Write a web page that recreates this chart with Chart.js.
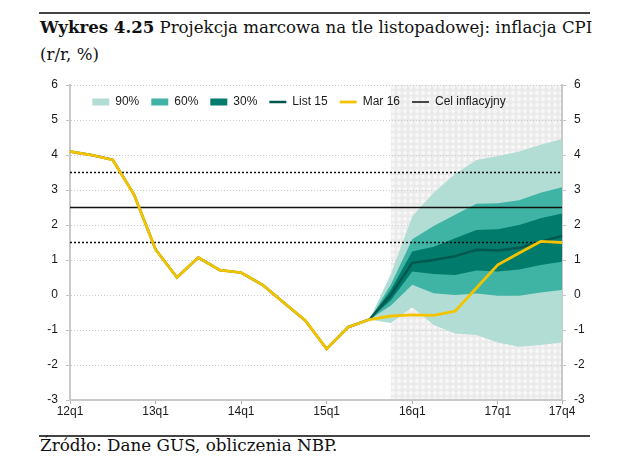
<!DOCTYPE html>
<html lang="pl">
<head>
<meta charset="utf-8">
<script src="https://cdn.jsdelivr.net/npm/chart.js@4.4.1/dist/chart.umd.min.js"></script>
<style>
  html, body { margin: 0; padding: 0; background: #fff; }
  body { width: 640px; height: 464px; position: relative; overflow: hidden; color: #111; font-family: "DejaVu Serif", serif; }
  .rule { position: absolute; left: 39px; width: 551px; height: 0; border-top: 2px solid #444; }
  #title { position: absolute; left: 40px; top: 14px; font-size: 16.6px; line-height: 26.7px; white-space: nowrap; }
  #title b { font-weight: bold; }
  #source { position: absolute; left: 40px; top: 432px; font-size: 16.8px; line-height: 26.7px; white-space: nowrap; }
  #wrap { position: absolute; left: 0; top: 66px; width: 600px; height: 360px; }
</style>
</head>
<body>
<div class="rule" style="top:12px"></div>
<div id="title"><b>Wykres 4.25</b> Projekcja marcowa na tle listopadowej: inflacja CPI<br>(r/r, %)</div>
<div id="wrap"><canvas id="mainChart"></canvas></div>
<div class="rule" style="top:435px"></div>
<div id="source">Źródło: Dane GUS, obliczenia NBP.</div>

<script>
const quarters = ['12q1', '12q2', '12q3', '12q4', '13q1', '13q2', '13q3', '13q4',
  '14q1', '14q2', '14q3', '14q4', '15q1', '15q2', '15q3', '15q4',
  '16q1', '16q2', '16q3', '16q4', '17q1', '17q2', '17q3', '17q4'];

// CPI data 12q1..15q3
const history = [4.1, 4.0, 3.86, 2.86, 1.3, 0.5, 1.07, 0.71, 0.64, 0.29, -0.22, -0.73, -1.54, -0.92, -0.7];
// projections 15q4..17q4
const mar16 = [-0.6, -0.57, -0.58, -0.46, 0.2, 0.86, 1.2, 1.53, 1.5];
const list15 = [0.0, 0.92, 1.0, 1.11, 1.29, 1.27, 1.35, 1.52, 1.69];
// fan chart bands 15q3..17q4
const band90Low = [-0.7, -0.8, -0.35, -0.86, -1.1, -1.14, -1.36, -1.48, -1.43, -1.36];
const band90High = [-0.7, 0.6, 2.25, 2.92, 3.46, 3.86, 3.97, 4.1, 4.29, 4.46];
const band60Low = [-0.7, -0.3, 0.29, 0.05, 0.0, 0.04, -0.02, -0.02, 0.07, 0.14];
const band60High = [-0.7, 0.3, 1.59, 1.97, 2.29, 2.61, 2.62, 2.71, 2.92, 3.08];
const band30Low = [-0.7, -0.15, 0.67, 0.6, 0.57, 0.7, 0.67, 0.73, 0.86, 0.95];
const band30High = [-0.7, 0.15, 1.24, 1.38, 1.62, 1.86, 1.88, 2.0, 2.19, 2.33];

const targetLevel = 2.5;
const toleranceLow = 1.5;
const toleranceHigh = 3.5;
const forecastStart = '15q4';
const labelledTicks = ['12q1', '13q1', '14q1', '15q1', '16q1', '17q1', '17q4'];

const bandLead = history.slice(0, -1).map(() => null);
const flat = v => quarters.map(() => v);

const font = { family: "'Liberation Sans', Arial, sans-serif", size: 12 };
const isLabelled = i => labelledTicks.includes(quarters[i]);

function band(label, values, color, order, fill) {
  return {
    label: label,
    data: bandLead.concat(values),
    backgroundColor: color,
    borderColor: color,
    borderWidth: 0,
    pointRadius: 0,
    pointStyle: 'rect',
    fill: fill,
    order: order
  };
}

function line(label, values, color, width, order, dash) {
  return {
    label: label,
    data: values,
    borderColor: color,
    backgroundColor: color,
    borderWidth: width,
    borderDash: dash || [],
    pointRadius: 0,
    pointStyle: 'line',
    fill: false,
    order: order
  };
}

// hatched grey background of the forecast horizon
const patternCanvas = document.createElement('canvas');
patternCanvas.width = patternCanvas.height = 6;
const pctx = patternCanvas.getContext('2d');
pctx.fillStyle = '#ebebeb';
pctx.fillRect(0, 0, 6, 6);
pctx.fillStyle = '#f7f7f7';
pctx.beginPath();
pctx.moveTo(3, 0.6); pctx.lineTo(5.4, 3); pctx.lineTo(3, 5.4); pctx.lineTo(0.6, 3);
pctx.closePath();
pctx.fill();

const forecastShade = {
  id: 'forecastShade',
  beforeDraw(chart) {
    const { ctx, chartArea, scales } = chart;
    const x0 = scales.x.getPixelForValue(quarters.indexOf(forecastStart));
    ctx.save();
    ctx.fillStyle = ctx.createPattern(patternCanvas, 'repeat');
    ctx.fillRect(x0, chartArea.top, chartArea.right - x0, chartArea.bottom - chartArea.top);
    ctx.restore();
  }
};

// legend drawn inside the plot area
const legendInside = {
  id: 'legendInside',
  beforeInit(chart) {
    const origFit = chart.legend.fit;
    chart.legend.fit = function () {
      origFit.call(this);
      this.height = 0;
    };
  },
  afterLayout(chart) {
    const lg = chart.legend;
    lg.top = chart.chartArea.top - 1;
    lg.bottom = lg.top + 30;
    lg.height = 30;
    lg.left -= 12;
    lg.right -= 12;
  }
};

const data = {
  labels: quarters,
  datasets: [
    band('', band90Low, '#b2ddd5', 10, false),
    band('90%', band90High, '#b2ddd5', 10, '-1'),
    band('', band60Low, '#3fb3a4', 9, false),
    band('60%', band60High, '#3fb3a4', 9, '-1'),
    band('', band30Low, '#007b6c', 8, false),
    band('30%', band30High, '#007b6c', 8, '-1'),
    line('List 15', history.concat(list15), '#00584e', 2.5, 5),
    line('Mar 16', history.concat(mar16), '#f4c300', 2.8, 1),
    line('Cel inflacyjny', flat(targetLevel), '#111', 1.5, 3),
    line('', flat(toleranceHigh), '#111', 1.5, 3, [2, 2]),
    line('', flat(toleranceLow), '#111', 1.5, 3, [2, 2])
  ]
};

const config = {
  type: 'line',
  data: data,
  options: {
    responsive: true,
    maintainAspectRatio: false,
    animation: false,
    layout: { padding: { left: 30, right: 8, top: 19, bottom: 4 } },
    elements: { line: { tension: 0 } },
    scales: {
      x: {
        offset: false,
        grid: {
          drawOnChartArea: false,
          tickLength: 4,
          tickColor: c => isLabelled(c.index) ? '#b0b0b0' : 'rgba(0,0,0,0)'
        },
        border: { color: '#c9c9c9', width: 2 },
        ticks: {
          autoSkip: false,
          maxRotation: 0,
          padding: 0,
          font: font,
          color: '#1a1a1a',
          callback: (value, index) => isLabelled(index) ? quarters[index] : ''
        },
        afterFit: scale => { scale.height = 22; }
      },
      y: {
        min: -3,
        max: 6,
        ticks: { stepSize: 1, font: font, color: '#1a1a1a', padding: 8 },
        grid: { color: '#cacaca', lineWidth: 1, tickLength: 4, tickColor: '#c4c4c4' },
        border: { color: '#c9c9c9', width: 2, dash: [1, 2] },
        afterFit: scale => { scale.width = 40; }
      },
      y2: {
        position: 'right',
        min: -3,
        max: 6,
        ticks: { stepSize: 1, font: font, color: '#1a1a1a', padding: 8 },
        grid: { drawOnChartArea: false, tickLength: 4, tickColor: '#c4c4c4' },
        border: { color: '#c9c9c9', width: 2 },
        afterFit: scale => { scale.width = 30; }
      }
    },
    plugins: {
      legend: {
        position: 'top',
        align: 'center',
        labels: {
          usePointStyle: true,
          pointStyleWidth: 17,
          boxHeight: 7,
          padding: 12,
          font: font,
          color: '#1a1a1a',
          filter: item => item.text !== '',
          sort: (a, b) => a.datasetIndex - b.datasetIndex
        }
      },
      tooltip: { enabled: false }
    }
  },
  plugins: [forecastShade, legendInside]
};

const c = new Chart('mainChart', config);
</script>
</body>
</html>
